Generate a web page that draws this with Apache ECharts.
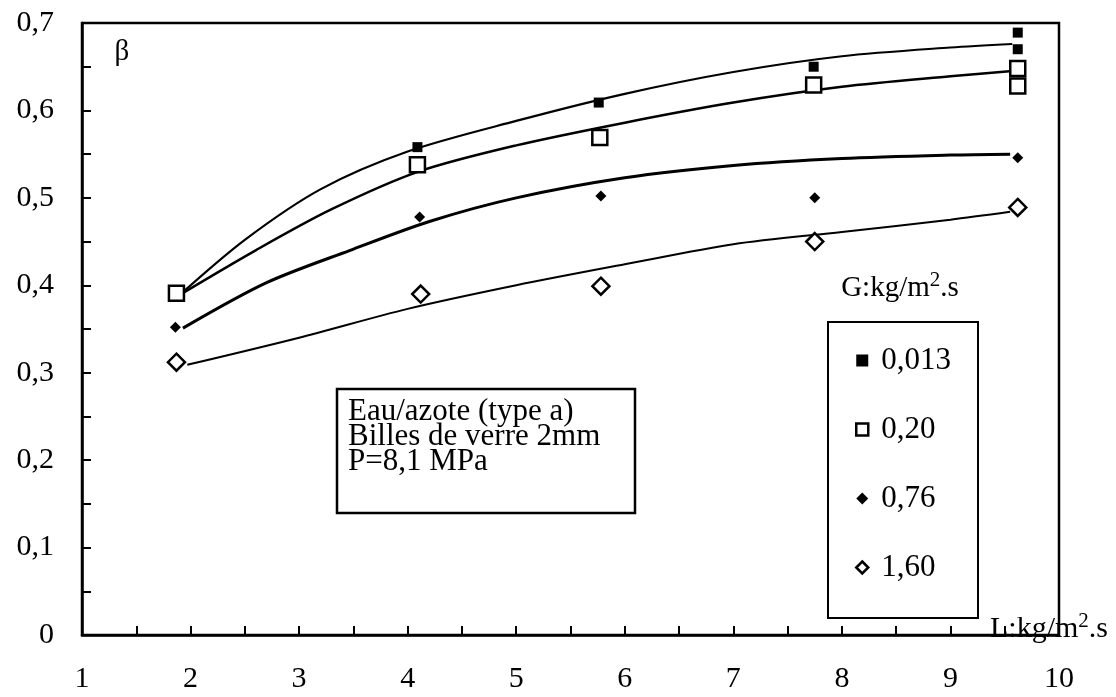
<!DOCTYPE html>
<html lang="fr">
<head>
<meta charset="UTF-8">
<title>beta - L</title>
<style>
  html, body { margin: 0; padding: 0; background: #fff; }
  #chart { width: 1116px; height: 697px; }
</style>
</head>
<body>
<div id="chart"></div>
<script src="https://cdn.jsdelivr.net/npm/echarts@6/dist/echarts.min.js"></script>
<script>
// points mesures (L, beta) pour chaque debit de gaz G
var pts013 = [[1.87, 0.391], [4.09, 0.558], [5.76, 0.609], [7.74, 0.650], [9.62, 0.689], [9.62, 0.670]];
var pts020 = [[1.87, 0.391], [4.09, 0.538], [5.77, 0.569], [7.74, 0.629], [9.62, 0.648], [9.62, 0.628]];
var pts076 = [[1.86, 0.352], [4.11, 0.478], [5.78, 0.502], [7.75, 0.500], [9.62, 0.546]];
var pts160 = [[1.87, 0.312], [4.12, 0.390], [5.78, 0.399], [7.75, 0.450], [9.62, 0.489]];

// courbes lissees
var fit013 = [[1.9, 0.389], [2.5, 0.452], [3.2, 0.510], [4.0, 0.553], [5.0, 0.588], [6.0, 0.619], [7.0, 0.644], [8.0, 0.662], [9.0, 0.672], [9.57, 0.676]];
var fit020 = [[1.9, 0.389], [2.6, 0.440], [3.3, 0.487], [4.1, 0.530], [5.0, 0.560], [6.0, 0.586], [7.0, 0.609], [8.0, 0.627], [9.0, 0.639], [9.57, 0.645]];
var fit076 = [[1.93, 0.351], [2.7, 0.403], [3.47, 0.440], [4.2, 0.473], [5.0, 0.500], [6.0, 0.523], [7.0, 0.537], [8.0, 0.545], [9.0, 0.549], [9.55, 0.550]];
var fit160 = [[1.97, 0.309], [3.0, 0.340], [4.0, 0.373], [5.0, 0.400], [6.0, 0.424], [7.0, 0.447], [8.0, 0.461], [9.0, 0.475], [9.55, 0.484]];

var gNames = ['0,013', '0,20', '0,76', '1,60'];

var serif = 'Liberation Serif, Times New Roman, serif';

function curve(name, data, w) {
    return {
        name: name, type: 'line', data: data, smooth: 0.3,
        symbol: 'none', silent: true, z: 2,
        lineStyle: { color: '#000', width: w }
    };
}

function marks(name, data, sym, size, fill, bw) {
    return {
        name: name, type: 'scatter', data: data, symbol: sym, symbolSize: size, z: 3,
        itemStyle: { color: fill, borderColor: '#000', borderWidth: bw, opacity: 1 }
    };
}

var option = {
    animation: false,
    backgroundColor: '#fff',
    grid: { left: 82, top: 23, right: 57, bottom: 62, show: true, borderColor: '#000', borderWidth: 2.5, backgroundColor: 'transparent' },
    xAxis: {
        type: 'value', min: 1, max: 10, interval: 1,
        axisLine: { lineStyle: { color: '#000', width: 2.5 } },
        axisTick: { inside: true, length: 9, lineStyle: { color: '#000', width: 2 } },
        minorTick: { show: true, splitNumber: 2, length: 9, lineStyle: { color: '#000', width: 2 } },
        splitLine: { show: false },
        axisLabel: { color: '#000', fontFamily: serif, fontSize: 30, margin: 29 }
    },
    yAxis: {
        type: 'value', min: 0, max: 0.7, interval: 0.1,
        axisLine: { lineStyle: { color: '#000', width: 2.5 } },
        axisTick: { inside: true, length: 9, lineStyle: { color: '#000', width: 2 } },
        minorTick: { show: true, splitNumber: 2, length: 9, lineStyle: { color: '#000', width: 2 } },
        splitLine: { show: false },
        axisLabel: {
            color: '#000', fontFamily: serif, fontSize: 30, margin: 28,
            formatter: function (v) { return v === 0 ? '0' : v.toFixed(1).replace('.', ','); }
        }
    },
    legend: {
        data: [
            { name: gNames[0], icon: 'rect', itemStyle: { color: '#000', borderWidth: 0 } },
            { name: gNames[1], icon: 'rect', itemStyle: { color: '#fff', borderColor: '#000', borderWidth: 2.5 } },
            { name: gNames[2], icon: 'diamond', itemStyle: { color: '#000', borderWidth: 0 } },
            { name: gNames[3], icon: 'diamond', itemStyle: { color: '#fff', borderColor: '#000', borderWidth: 2.5 } }
        ],
        orient: 'vertical', left: 828, top: 322,
        padding: [23, 27, 35, 27], itemGap: 38, itemWidth: 12, itemHeight: 12,
        borderColor: '#000', borderWidth: 2, backgroundColor: '#fff',
        selectedMode: false,
        textStyle: { color: '#000', fontFamily: serif, fontSize: 31, padding: [0, 0, 0, 8] }
    },
    graphic: [
        { type: 'text', x: 122, y: 52, style: { text: 'β', font: '29px ' + serif, fill: '#000', align: 'center', verticalAlign: 'middle' } },
        {
            type: 'text', x: 900, y: 288,
            style: {
                text: 'G:kg/m{s|2}.s', font: '29px ' + serif, fill: '#000', align: 'center', verticalAlign: 'middle',
                rich: { s: { fontSize: 21, fontFamily: serif, padding: [0, 0, 16, 0] } }
            }
        },
        {
            type: 'text', x: 990, y: 629,
            style: {
                text: 'L:kg/m{s|2}.s', font: '30px ' + serif, fill: '#000', align: 'left', verticalAlign: 'middle',
                rich: { s: { fontSize: 21, fontFamily: serif, padding: [0, 0, 16, 0] } }
            }
        },
        {
            type: 'group', z: 10,
            children: [
                { type: 'rect', shape: { x: 337, y: 389, width: 298, height: 124 }, style: { fill: '#fff', stroke: '#000', lineWidth: 2.5 } },
                {
                    type: 'text', x: 348, y: 399,
                    style: { text: 'Eau/azote (type a)\nBilles de verre 2mm\nP=8,1 MPa', font: '31px ' + serif, lineHeight: 25, fill: '#000' }
                }
            ]
        }
    ],
    series: [
        curve('c013', fit013, 2.2),
        curve('c020', fit020, 2.5),
        curve('c076', fit076, 3),
        curve('c160', fit160, 2),
        marks(gNames[0], pts013, 'rect', 10, '#000', 0),
        marks(gNames[1], pts020, 'rect', 15, '#fff', 2.5),
        marks(gNames[2], pts076, 'diamond', 11, '#000', 0),
        marks(gNames[3], pts160, 'diamond', 17, '#fff', 2.5)
    ]
};

var myChart = echarts.init(document.getElementById('chart'));
myChart.setOption(option);
</script>
</body>
</html>
